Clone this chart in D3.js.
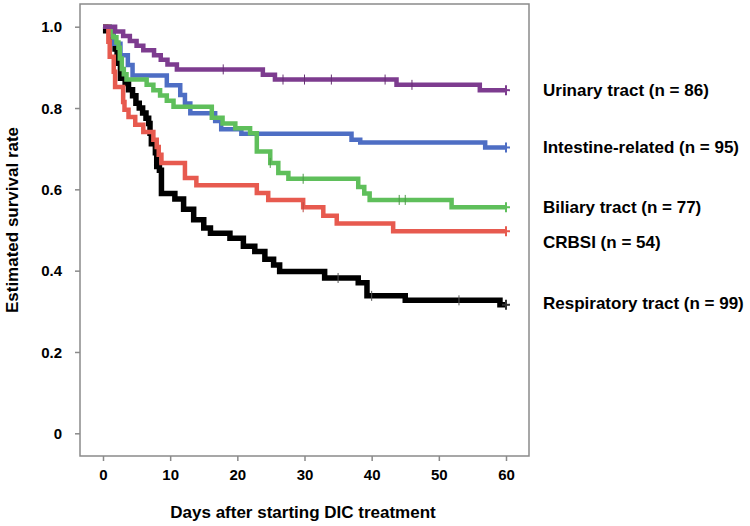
<!DOCTYPE html>
<html>
<head>
<meta charset="utf-8">
<script src="https://cdn.jsdelivr.net/npm/d3@7/dist/d3.min.js"></script>
<style>
  html, body { margin: 0; padding: 0; background: #fff; }
  svg { display: block; }
  text { font-family: "Liberation Sans", Arial, Helvetica, sans-serif; font-weight: bold; fill: #000; }
</style>
</head>
<body>
<svg id="chart" width="750" height="526"></svg>
<script>
// ---- Data ----
const xTicks = [0, 10, 20, 30, 40, 50, 60];
const yTicks = [0, 0.2, 0.4, 0.6, 0.8, 1.0];
const yTickLabels = ["0", "0.2", "0.4", "0.6", "0.8", "1.0"];
const seriesNames = ["Urinary tract (n = 86)", "Intestine-related (n = 95)", "Biliary tract (n = 77)", "CRBSI (n = 54)", "Respiratory tract (n = 99)"];
const seriesColors = ["#7d3c8f", "#4e6ec4", "#5fbf5b", "#e75a4f", "#000000"];

// step curves: [day, survival after that day]
const urinary = [[0,1.0],[1.8,0.988],[3.0,0.977],[4.0,0.965],[5.0,0.953],[6.0,0.942],[7.6,0.930],[8.6,0.919],[9.6,0.907],[11.0,0.895],[23.8,0.882],[25.6,0.870],[43.7,0.857],[56.1,0.844]];
const intestine = [[0,1.0],[1.0,0.979],[1.6,0.958],[2.6,0.930],[3.7,0.906],[4.4,0.880],[9.5,0.856],[11.5,0.832],[12.2,0.811],[13.0,0.787],[16.7,0.768],[17.6,0.748],[20.6,0.737],[37.0,0.722],[38.3,0.715],[56.9,0.703]];
const biliary = [[0,1.0],[1.0,0.987],[1.5,0.974],[2.0,0.961],[2.3,0.948],[2.5,0.922],[2.8,0.896],[3.1,0.883],[3.5,0.870],[6.5,0.857],[7.5,0.844],[8.5,0.831],[9.5,0.818],[10.5,0.803],[16.2,0.776],[17.8,0.762],[19.7,0.750],[21.9,0.738],[22.9,0.693],[24.9,0.665],[26.1,0.640],[27.6,0.626],[38.0,0.606],[38.9,0.590],[39.7,0.574],[51.9,0.556]];
const crbsi = [[0,1.0],[0.8,0.963],[1.0,0.926],[1.6,0.889],[1.8,0.852],[3.0,0.815],[3.2,0.796],[3.8,0.778],[4.8,0.759],[6.0,0.741],[7.5,0.722],[8.0,0.704],[8.3,0.685],[8.7,0.665],[12.2,0.628],[13.9,0.610],[22.9,0.591],[24.6,0.574],[29.8,0.556],[32.8,0.535],[34.8,0.516],[43.2,0.497]];
const respiratory = [[0,1.0],[0.4,0.990],[1.0,0.980],[1.5,0.960],[1.8,0.945],[2.1,0.930],[2.3,0.910],[2.6,0.873],[3.3,0.860],[3.8,0.845],[4.4,0.830],[4.9,0.812],[5.4,0.800],[5.9,0.788],[6.4,0.775],[6.8,0.762],[7.0,0.738],[7.2,0.712],[7.8,0.690],[8.0,0.656],[8.4,0.647],[8.7,0.590],[10.7,0.576],[12.0,0.551],[13.5,0.525],[15.0,0.505],[16.0,0.492],[18.9,0.480],[20.9,0.460],[22.6,0.447],[24.1,0.428],[25.4,0.414],[26.3,0.398],[33.0,0.382],[38.0,0.370],[39.3,0.338],[45.0,0.327],[59.1,0.316]];
const endDay = 60;

// censoring marks (days)
const urinaryCensor = [17.9, 26.8, 30.0, 34.0, 42.0, 46.0];
const intestineCensor = [];
const biliaryCensor = [24.9, 29.8, 44.1, 45.0];
const crbsiCensor = [29.8];
const respiratoryCensor = [35.0, 40.0, 53.0];

const curves = [urinary, intestine, biliary, crbsi, respiratory];
const censors = [urinaryCensor, intestineCensor, biliaryCensor, crbsiCensor, respiratoryCensor];
const lineWidths = [4.5, 4.5, 4.5, 4.5, 5.5];
const labelY = [0.844, 0.703, 0.556, 0.47, 0.32];

// ---- Layout ----
const svg = d3.select("#chart");
const frame = { left: 80, right: 529, top: 4, bottom: 456 };
const x = d3.scaleLinear().domain([0, 60]).range([103, 506]);
const y = d3.scaleLinear().domain([0, 1]).range([433.3, 26.7]);

// frame
svg.append("rect")
  .attr("x", frame.left).attr("y", frame.top)
  .attr("width", frame.right - frame.left).attr("height", frame.bottom - frame.top)
  .attr("fill", "none").attr("stroke", "#8a8a8a").attr("stroke-width", 1.5);

// y axis ticks
const yAxis = d3.axisLeft(y).tickValues(yTicks).tickSize(5).tickPadding(13)
  .tickFormat((d, i) => yTickLabels[i]);
const gy = svg.append("g").attr("transform", `translate(${frame.left},0)`).call(yAxis);
gy.select(".domain").remove();
gy.selectAll(".tick line").attr("stroke", "#8a8a8a").attr("stroke-width", 1.5);
gy.selectAll(".tick text").style("font-size", "15px").attr("dy", "0.35em");

// x axis ticks
const xAxis = d3.axisBottom(x).tickValues(xTicks).tickSize(5).tickPadding(8).tickFormat(d3.format("d"));
const gx = svg.append("g").attr("transform", `translate(0,${frame.bottom})`).call(xAxis);
gx.select(".domain").remove();
gx.selectAll(".tick line").attr("stroke", "#8a8a8a").attr("stroke-width", 1.5);
gx.selectAll(".tick text").style("font-size", "15px");

// axis titles
svg.append("text")
  .attr("transform", `translate(12,220) rotate(-90)`)
  .attr("text-anchor", "middle").attr("dy", "0.35em")
  .style("font-size", "17px").text("Estimated survival rate");
svg.append("text")
  .attr("x", 303).attr("y", 512).attr("text-anchor", "middle").attr("dy", "0.35em")
  .style("font-size", "17px").text("Days after starting DIC treatment");

// curves
const line = d3.line().x(d => x(d[0])).y(d => y(d[1])).curve(d3.curveStepAfter);
const survAt = (curve, t) => { let s = curve[0][1]; for (const p of curve) { if (p[0] <= t) s = p[1]; } return s; };

const drawOrder = [4, 1, 2, 3, 0];
drawOrder.forEach(i => {
  const c = curves[i];
  const pts = c.concat([[endDay, c[c.length - 1][1]]]);
  svg.append("path").datum(pts)
    .attr("fill", "none").attr("stroke", seriesColors[i])
    .attr("stroke-width", lineWidths[i]).attr("stroke-linejoin", "miter").attr("stroke-linecap", "butt")
    .attr("d", line);
  censors[i].forEach(t => {
    const s = survAt(c, t);
    svg.append("line")
      .attr("x1", x(t)).attr("x2", x(t)).attr("y1", y(s) - 5).attr("y2", y(s) + 5)
      .attr("stroke", i === 4 ? "#555" : d3.color(seriesColors[i]).darker(0.6))
      .attr("stroke-width", 1);
  });
  const sEnd = c[c.length - 1][1];
  const g = svg.append("g").attr("stroke", i === 4 ? "#333" : seriesColors[i]).attr("stroke-width", 2);
  g.append("line").attr("x1", x(endDay)).attr("x2", x(endDay)).attr("y1", y(sEnd) - 5).attr("y2", y(sEnd) + 5);
  g.append("line").attr("x1", x(endDay) - 4).attr("x2", x(endDay) + 4).attr("y1", y(sEnd)).attr("y2", y(sEnd));
});

// labels
seriesNames.forEach((name, i) => {
  svg.append("text").attr("x", 543).attr("y", y(labelY[i])).attr("dy", "0.35em")
    .style("font-size", "17px").text(name);
});
</script>
</body>
</html>
